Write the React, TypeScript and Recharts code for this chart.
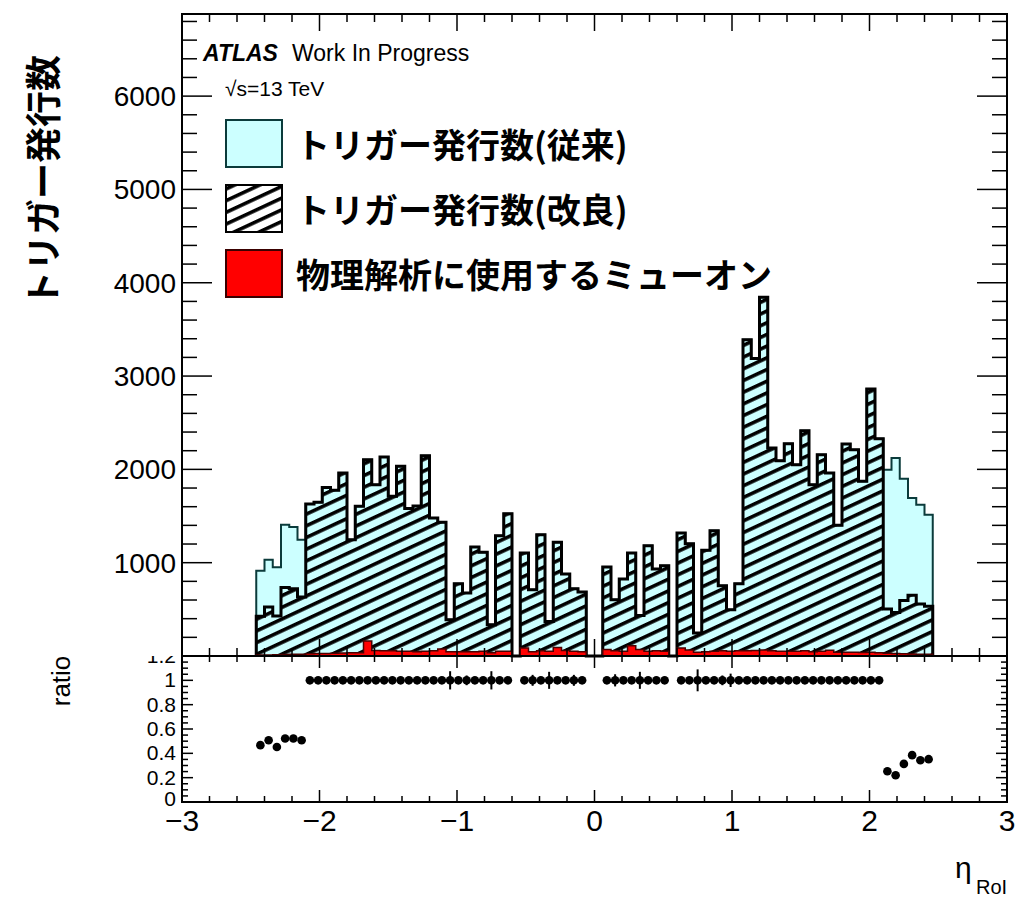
import React from 'react';
import {
  ComposedChart,
  Area,
  XAxis,
  YAxis,
  ReferenceArea,
  ScatterChart,
  Scatter,
  ErrorBar,
} from 'recharts';

// RoI eta binning: 82 bins of 0.06 starting at -2.46
const etaMin = -2.46;
const binWidth = 0.06;

// trigger counts per bin, improved selection (hatched)
const improvedCounts = [
  427, 524, 430, 735, 721, 633,
  1629, 1647, 1807, 1775, 1961, 1247, 1604, 2104, 1836, 2133, 1711, 2033, 1580, 1608,
  2147, 1479, 1432, 389, 775, 675, 1168, 1111, 335, 1289,
  1525, 0, 1104, 711, 1300, 371, 1218, 879, 721, 686,
  0, 0, 954, 603, 825, 1104, 435, 1182, 932, 968,
  0, 1318, 1204, 246, 1132, 1343, 754, 496, 775, 3390,
  3187, 3844, 2229, 2093, 2275, 2050, 2415, 1836, 2158, 1961,
  1400, 2272, 2211, 1872, 2862, 2329, 505, 467, 595, 652, 556, 533,
];

// trigger counts per bin, conventional selection (cyan)
const conventionalCounts = [
  914, 1032, 950, 1407, 1382, 1246,
  1629, 1647, 1807, 1775, 1961, 1247, 1604, 2104, 1836, 2133, 1711, 2033, 1580, 1608,
  2147, 1479, 1432, 389, 775, 675, 1168, 1111, 335, 1289,
  1525, 0, 1104, 711, 1300, 371, 1218, 879, 721, 686,
  0, 0, 954, 603, 825, 1104, 435, 1182, 932, 968,
  0, 1318, 1204, 246, 1132, 1343, 754, 496, 775, 3390,
  3187, 3844, 2229, 2093, 2275, 2050, 2415, 1836, 2158, 1961,
  1400, 2272, 2211, 1872, 2862, 2329, 1997, 2122, 1900, 1693, 1622, 1514,
];

// muons used in physics analyses (red)
const physicsMuons = [
  10, 12, 14, 16, 18, 20,
  24, 26, 28, 30, 32, 34, 36,
  160,
  60, 55, 55, 50, 50, 45, 50, 55, 75,
  45, 45, 45, 45, 50, 35, 50, 50,
  0,
  85, 45, 55, 50, 90, 60, 50, 45,
  0, 0,
  70, 55, 50, 110, 70, 50, 55, 50,
  0,
  85, 65, 40, 45, 50, 55, 50, 55, 55,
  60, 65, 55, 50, 50, 50, 55, 45, 50, 62,
  40, 40, 40, 38, 40, 35, 30, 28, 25, 22, 20, 18,
];

// ratio uncertainties, only where they stick out of the marker
const errorBins = [23, 25, 28, 33, 35, 38, 43, 46, 53, 56, 57];
const errorValues = [0.075, 0.04, 0.075, 0.045, 0.07, 0.045, 0.05, 0.07, 0.09, 0.04, 0.055];

const mainYTicks = [
  0, 200, 400, 600, 800, 1000, 1200, 1400, 1600, 1800, 2000, 2200, 2400, 2600, 2800, 3000,
  3200, 3400, 3600, 3800, 4000, 4200, 4400, 4600, 4800, 5000, 5200, 5400, 5600, 5800, 6000,
  6200, 6400, 6600, 6800,
];
const etaTicks = [
  -3, -2.8, -2.6, -2.4, -2.2, -2, -1.8, -1.6, -1.4, -1.2, -1, -0.8, -0.6, -0.4, -0.2, 0,
  0.2, 0.4, 0.6, 0.8, 1, 1.2, 1.4, 1.6, 1.8, 2, 2.2, 2.4, 2.6, 2.8, 3,
];
const ratioTicks = [
  0, 0.05, 0.1, 0.15, 0.2, 0.25, 0.3, 0.35, 0.4, 0.45, 0.5, 0.55, 0.6, 0.65, 0.7, 0.75,
  0.8, 0.85, 0.9, 0.95, 1, 1.05, 1.1, 1.15, 1.2,
];

const W = 1029;
const H = 901;
const plotLeft = 182;
const plotRight = 1007;
const mainTop = 14;
const mainBottom = 656;
const ratioBottom = 802;
const mainYMax = 6880;

const latin = "'Liberation Sans', Arial, Helvetica, sans-serif";
const cjk = "'Noto Sans CJK JP', 'Noto Sans', sans-serif";

// step-area rows at bin edges, closed down to zero at both ends
const histRows = (() => {
  const rows = [{ x: etaMin, conventional: 0, improved: 0, physics: 0 }];
  improvedCounts.forEach((v, i) => {
    rows.push({
      x: +(etaMin + i * binWidth).toFixed(4),
      conventional: conventionalCounts[i],
      improved: v,
      physics: physicsMuons[i],
    });
  });
  rows.push({
    x: +(etaMin + improvedCounts.length * binWidth).toFixed(4),
    conventional: 0,
    improved: 0,
    physics: 0,
  });
  return rows;
})();

const ratioPoints = improvedCounts
  .map((v, i) => {
    const k = errorBins.indexOf(i);
    return {
      x: +(etaMin + (i + 0.5) * binWidth).toFixed(4),
      y: conventionalCounts[i] > 0 ? v / conventionalCounts[i] : null,
      err: k >= 0 ? errorValues[k] : 0,
    };
  })
  .filter((p) => p.y !== null);

const isMultiple = (v: number, step: number) =>
  Math.abs(v / step - Math.round(v / step)) < 1e-6;

function MainYTick({ y, payload }: any) {
  const v = payload.value;
  const major = v % 1000 === 0;
  const len = major ? 30 : 15;
  return (
    <g>
      <line x1={plotLeft} x2={plotLeft + len} y1={y} y2={y} stroke="#000" strokeWidth={1.5} />
      <line x1={plotRight} x2={plotRight - len} y1={y} y2={y} stroke="#000" strokeWidth={1.5} />
      {major && v > 0 && (
        <text x={176} y={y + 10} textAnchor="end" fontSize={28} fontFamily={latin} fill="#000">
          {v}
        </text>
      )}
    </g>
  );
}

function MainXTick({ x, payload }: any) {
  const major = isMultiple(payload.value, 1);
  const len = major ? 17 : 8;
  return (
    <g>
      <line x1={x} x2={x} y1={mainBottom} y2={mainBottom - len} stroke="#000" strokeWidth={1.5} />
      <line x1={x} x2={x} y1={mainTop} y2={mainTop + len} stroke="#000" strokeWidth={1.5} />
    </g>
  );
}

function RatioXTick({ x, payload }: any) {
  const v = payload.value;
  const major = isMultiple(v, 1);
  const len = major ? 12 : 6;
  const label = v < 0 ? `\u2212${Math.abs(v)}` : `${v}`;
  return (
    <g>
      <line x1={x} x2={x} y1={ratioBottom} y2={ratioBottom - len} stroke="#000" strokeWidth={1.5} />
      <line x1={x} x2={x} y1={mainBottom} y2={mainBottom + len} stroke="#000" strokeWidth={1.5} />
      {major && (
        <text x={x} y={831} textAnchor="middle" fontSize={30} fontFamily={latin} fill="#000">
          {label}
        </text>
      )}
    </g>
  );
}

function RatioYTick({ y, payload }: any) {
  const v = payload.value;
  const major = isMultiple(v, 0.2);
  const len = major ? 11 : 6;
  const label = isMultiple(v, 1) ? `${Math.round(v)}` : v.toFixed(1);
  const clipId = `ratioLabelClip${Math.round(v * 10)}`;
  return (
    <g>
      <line x1={plotLeft} x2={plotLeft + len} y1={y} y2={y} stroke="#000" strokeWidth={1.5} />
      <line x1={plotRight} x2={plotRight - len} y1={y} y2={y} stroke="#000" strokeWidth={1.5} />
      {major && (
        <>
          <defs>
            <clipPath id={clipId} clipPathUnits="userSpaceOnUse">
              <rect x={100} y={mainBottom} width={80} height={200} />
            </clipPath>
          </defs>
          <text
            x={176}
            y={v === 0 ? y + 4 : y + 7}
            textAnchor="end"
            fontSize={21}
            fontFamily={latin}
            fill="#000"
            clipPath={`url(#${clipId})`}
          >
            {label}
          </text>
        </>
      )}
    </g>
  );
}

function Dot(p: any) {
  return <circle cx={p.cx} cy={p.cy} r={4.3} fill="#000" />;
}

function HatchPattern({ id }: { id: string }) {
  return (
    <pattern
      id={id}
      patternUnits="userSpaceOnUse"
      width={12}
      height={10.6}
      patternTransform="rotate(-25)"
    >
      <rect x={0} y={0} width={12} height={3.6} fill="#000" />
    </pattern>
  );
}

function Overlay() {
  const legendX = 226;
  const boxW = 56;
  const boxH = 47;
  const rows = [
    { y: 120, label: 'トリガー発行数(従来)', fill: '#ccffff', stroke: '#0b3b3b' },
    { y: 185, label: 'トリガー発行数(改良)', fill: 'url(#hatchKey)', stroke: '#000' },
    { y: 250, label: '物理解析に使用するミューオン', fill: '#ff0000', stroke: '#3a0000' },
  ];
  return (
    <svg
      width={W}
      height={H}
      style={{ position: 'absolute', left: 0, top: 0, pointerEvents: 'none' }}
    >
      <defs>
        <HatchPattern id="hatchKey" />
      </defs>
      <text
        transform="translate(41,181) rotate(-90)"
        textAnchor="middle"
        dominantBaseline="central"
        fontSize={36}
        fontWeight={700}
        fontFamily={cjk}
        fill="#000"
      >
        トリガー発行数
      </text>
      <text
        transform="translate(61,681) rotate(-90)"
        textAnchor="middle"
        dominantBaseline="central"
        fontSize={26}
        fontFamily={latin}
        fill="#000"
      >
        ratio
      </text>
      <text x={203} y={61} fontSize={23} fontWeight={700} fontStyle="italic" fontFamily={latin}>
        ATLAS
      </text>
      <text x={292} y={61} fontSize={23} fontFamily={latin}>
        Work In Progress
      </text>
      <text x={225} y={96} fontSize={21} fontFamily={latin}>
        √s=13 TeV
      </text>
      {rows.map((r) => (
        <g key={r.label}>
          {r.fill.startsWith('url') && (
            <rect x={legendX} y={r.y} width={boxW} height={boxH} fill="#fff" />
          )}
          <rect
            x={legendX}
            y={r.y}
            width={boxW}
            height={boxH}
            fill={r.fill}
            stroke={r.stroke}
            strokeWidth={2}
          />
          <text
            x={296}
            y={r.y + boxH / 2}
            dominantBaseline="central"
            fontSize={34}
            fontWeight={700}
            fontFamily={cjk}
            fill="#000"
          >
            {r.label}
          </text>
        </g>
      ))}
      <text x={955} y={878} fontSize={30} fontFamily={latin}>
        η
      </text>
      <text x={976} y={894} fontSize={20} fontFamily={latin}>
        RoI
      </text>
    </svg>
  );
}

export default function App() {
  return (
    <div
      style={{ position: 'absolute', left: 0, top: 0, width: W, height: H, background: '#fff' }}
    >
      <div style={{ position: 'absolute', left: 0, top: 0 }}>
        <ScatterChart
          width={W}
          height={H}
          margin={{ top: mainBottom, right: W - plotRight, bottom: 0, left: plotLeft - 100 }}
        >
          <XAxis
            type="number"
            dataKey="x"
            domain={[-3, 3]}
            ticks={etaTicks}
            interval={0}
            height={H - ratioBottom}
            axisLine={false}
            tickLine={false}
            tick={<RatioXTick />}
          />
          <YAxis
            type="number"
            dataKey="y"
            domain={[0, 1.2]}
            ticks={ratioTicks}
            interval={0}
            width={100}
            axisLine={false}
            tickLine={false}
            tick={<RatioYTick />}
          />
          <ReferenceArea
            x1={-3}
            x2={3}
            y1={0}
            y2={1.2}
            fill="none"
            stroke="#000"
            strokeWidth={2}
            fillOpacity={0}
          />
          <Scatter data={ratioPoints} shape={<Dot />} isAnimationActive={false}>
            <ErrorBar dataKey="err" direction="y" width={0} stroke="#000" strokeWidth={2} />
          </Scatter>
        </ScatterChart>
      </div>
      <div style={{ position: 'absolute', left: 0, top: 0 }}>
        <ComposedChart
          width={W}
          height={mainBottom + 4}
          data={histRows}
          margin={{ top: mainTop, right: W - plotRight, bottom: 0, left: plotLeft - 100 }}
        >
          <defs>
            <HatchPattern id="hatchMain" />
          </defs>
          <XAxis
            type="number"
            dataKey="x"
            domain={[-3, 3]}
            ticks={etaTicks}
            interval={0}
            height={4}
            axisLine={false}
            tickLine={false}
            tick={<MainXTick />}
          />
          <YAxis
            type="number"
            domain={[0, mainYMax]}
            ticks={mainYTicks}
            interval={0}
            width={100}
            axisLine={false}
            tickLine={false}
            tick={<MainYTick />}
          />
          <Area
            type="stepAfter"
            dataKey="conventional"
            stroke="#0b3b3b"
            strokeWidth={2}
            fill="#ccffff"
            fillOpacity={1}
            dot={false}
            activeDot={false}
            isAnimationActive={false}
          />
          <Area
            type="stepAfter"
            dataKey="improved"
            stroke="#000"
            strokeWidth={3}
            fill="url(#hatchMain)"
            fillOpacity={1}
            dot={false}
            activeDot={false}
            isAnimationActive={false}
          />
          <Area
            type="stepAfter"
            dataKey="physics"
            stroke="#4a0000"
            strokeWidth={1.5}
            fill="#ff0000"
            fillOpacity={1}
            dot={false}
            activeDot={false}
            isAnimationActive={false}
          />
          <ReferenceArea
            x1={-3}
            x2={3}
            y1={0}
            y2={mainYMax}
            fill="none"
            stroke="#000"
            strokeWidth={2}
            fillOpacity={0}
          />
        </ComposedChart>
      </div>
      <Overlay />
    </div>
  );
}
